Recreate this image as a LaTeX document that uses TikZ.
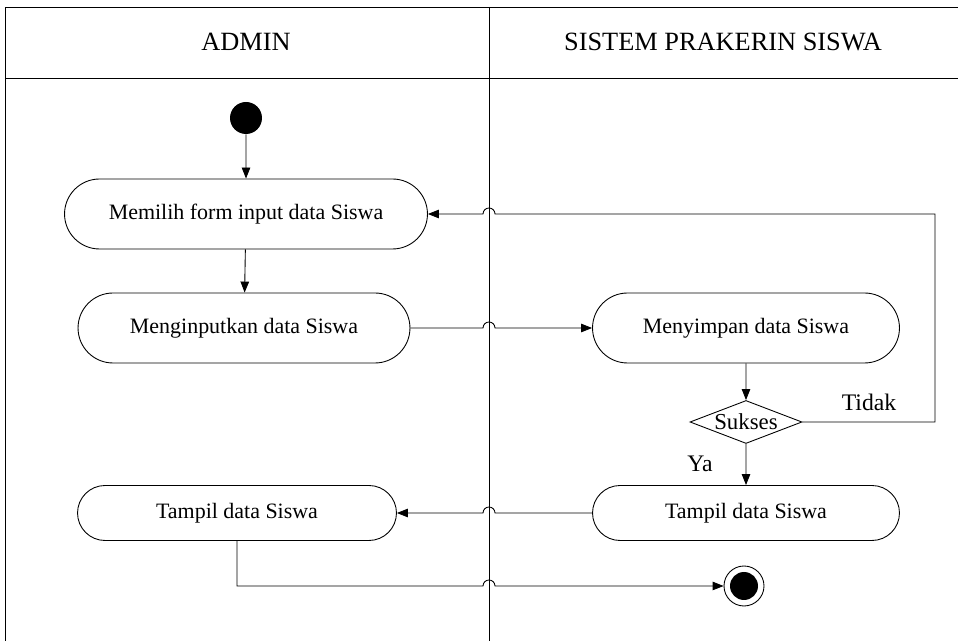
\documentclass[tikz,border=0pt]{standalone}
\usepackage{fontspec}
\setmainfont{Liberation Serif}
\usetikzlibrary{arrows.meta,shapes.misc,shapes.geometric}

\tikzset{
  act/.style={draw, rounded rectangle, minimum height=1.4cm, inner sep=0pt,
    font=\fontsize{12.5}{15}\selectfont},
  arr/.style={-{Triangle[length=0.22cm,width=0.17cm]}},
  lbl/.style={font=\fontsize{13.5}{16}\selectfont},
}

\begin{document}
\begin{tikzpicture}[x=0.02cm, y=-0.02cm, line width=0.5pt]
  \useasboundingbox (0,0) rectangle (958,641);

  % swimlanes
  \draw (958,7) -- (5,7) -- (5,641); \draw (5,78) -- (958,78);
  \draw (489,7) -- (489,641);
  \node[font=\fontsize{15}{18}\selectfont] (laneA) at (246,42) {ADMIN};
  \node[font=\fontsize{15}{18}\selectfont] (laneB) at (723,42) {SISTEM PRAKERIN SISWA};

  % admin side (left)
  \node[circle, fill, minimum size=0.64cm, inner sep=0pt] (start) at (246,118) {};
  \node[act, minimum width=7.26cm] (pilih) at (246,214) {Memilih form input data Siswa};
  \node[act, minimum width=6.64cm] (input) at (244,328) {Menginputkan data Siswa};
  \node[act, minimum width=6.38cm, minimum height=1.1cm] (tampilA) at (237,513) {Tampil data Siswa};

  % system side (right)
  \node[act, minimum width=6.14cm] (simpan) at (746,328) {Menyimpan data Siswa};
  \node[draw, diamond, aspect=2.6, minimum width=2.24cm, minimum height=0.86cm,
    inner sep=0pt, font=\fontsize{13}{15}\selectfont] (sukses) at (746,422) {Sukses};
  \node[act, minimum width=6.14cm, minimum height=1.1cm] (tampilB) at (746,513) {Tampil data Siswa};
  \node[circle, draw, minimum size=0.8cm, inner sep=0pt] (end) at (744,586) {};
  \fill (end.center) circle (0.28cm);

  % flows
  \draw[arr] (start) -- (pilih);
  \draw[arr] (pilih) -- (input);
  \draw[arr] (input.east) -- (483,328) arc[start angle=180, end angle=0, radius=0.12cm] -- (simpan.west);
  \draw[arr] (simpan) -- (sukses);
  \draw[arr] (sukses.east) -- (935,422) -- (935,214) -- (495,214)
    arc[start angle=0, end angle=180, radius=0.12cm] -- (pilih.east);
  \draw[arr] (sukses) -- (tampilB);
  \draw[arr] (tampilB.west) -- (495,513) arc[start angle=0, end angle=180, radius=0.12cm] -- (tampilA.east);
  \draw[arr] (tampilA.south) -- (237,586) -- (483,586)
    arc[start angle=180, end angle=0, radius=0.12cm] -- (end.west);
  \node[lbl] (tidak) at (869,402) {Tidak};
  \node[lbl] (ya) at (700,464) {Ya};
\end{tikzpicture}
\end{document}
